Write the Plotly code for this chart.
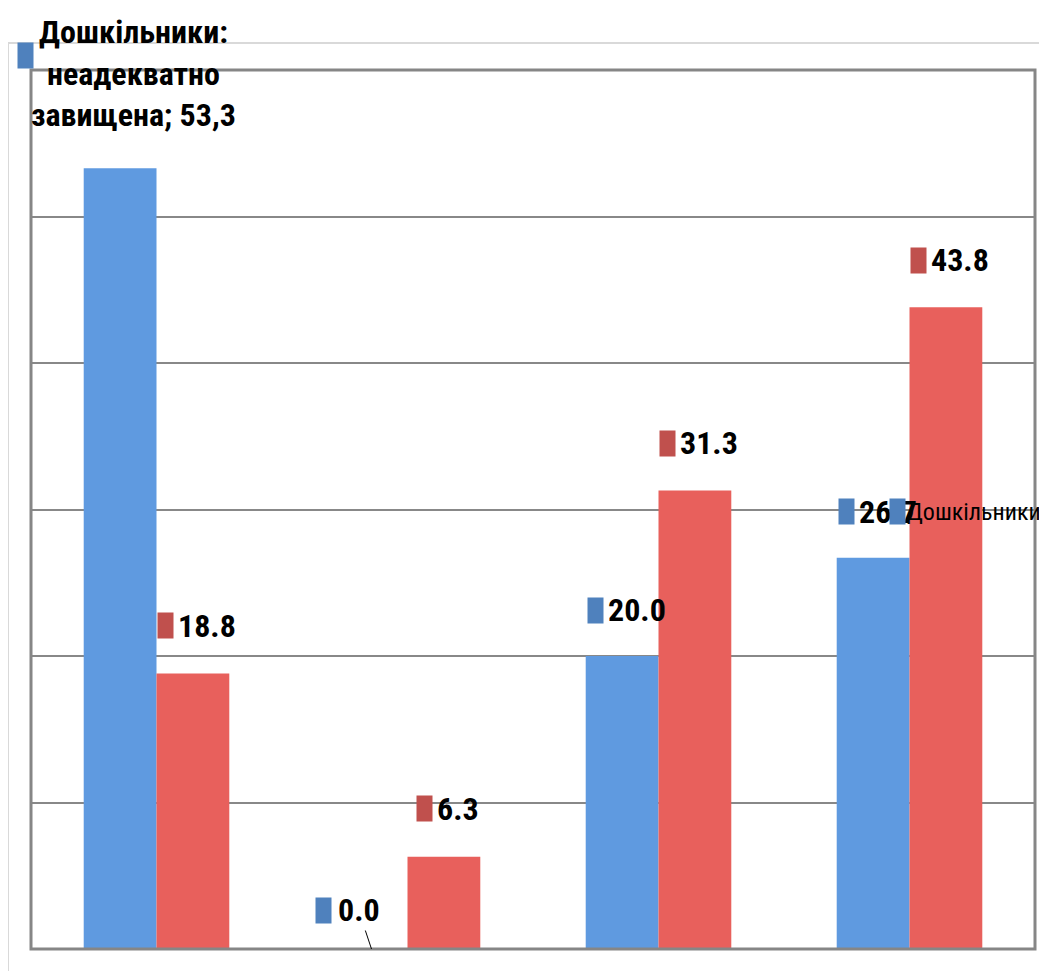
import plotly.graph_objects as go

categories = ["неадекватно завищена", "занижена", "адекватна", "завищена"]
preschool = [53.3, 0.0, 20.0, 26.7]
schoolkids = [18.8, 6.3, 31.3, 43.8]
series_names = ["Дошкільники", "Молодші школярі"]

BAR_BLUE = "#5F9AE0"
BAR_RED = "#E8605C"
KEY_BLUE = "#4F81BD"
KEY_RED = "#C0504D"
FONT = "Liberation Sans Narrow, Roboto Condensed, Noto Sans Condensed, Roboto, sans-serif"
FS = 32

fig = go.Figure()
fig.add_trace(go.Bar(x=categories, y=preschool, name=series_names[0],
                     marker=dict(color=BAR_BLUE, line=dict(width=0))))
fig.add_trace(go.Bar(x=categories, y=schoolkids, name=series_names[1],
                     marker=dict(color=BAR_RED, line=dict(width=0))))

ann = []

def key(cat, val, color, xstart, yshift, anchor="left"):
    ann.append(dict(x=cat, y=val, xref="x", yref="y", text=" ", showarrow=False,
                    width=15, height=25, bgcolor=color, borderpad=0,
                    xanchor=anchor, yanchor="middle", xshift=xstart, yshift=yshift))

def label(cat, val, text, key_color, xstart, yshift):
    key(cat, val, key_color, xstart, yshift)
    ann.append(dict(x=cat, y=val, xref="x", yref="y", text=f"<b>{text}</b>", showarrow=False,
                    font=dict(family=FONT, size=FS, color="black"),
                    xanchor="left", yanchor="middle", xshift=xstart + 19, yshift=yshift))

# red series labels
label(categories[0], schoolkids[0], f"{schoolkids[0]:.1f}", KEY_RED, 0, 48)
label(categories[1], schoolkids[1], f"{schoolkids[1]:.1f}", KEY_RED, 8, 48)
label(categories[2], schoolkids[2], f"{schoolkids[2]:.1f}", KEY_RED, 0, 47)
label(categories[3], schoolkids[3], f"{schoolkids[3]:.1f}", KEY_RED, 0, 47)
# blue series labels
label(categories[2], preschool[2], f"{preschool[2]:.1f}", KEY_BLUE, -72, 46)
label(categories[3], preschool[3], f"{preschool[3]:.1f}", KEY_BLUE, -72, 46)
# overlapping series-name label (as in the original)
key(categories[3], preschool[3], KEY_BLUE, -21, 46)
ann.append(dict(x=categories[3], y=preschool[3], xref="x", yref="y", text=series_names[0],
                showarrow=False, font=dict(family=FONT, size=24, color="black"),
                xanchor="left", yanchor="middle", xshift=-5, yshift=46))
# zero label with leader line
key(categories[1], preschool[1], KEY_BLUE, -93, 39)
ann.append(dict(x=categories[1], y=preschool[1], xref="x", yref="y",
                text=f"<b>{preschool[1]:.1f}</b>", showarrow=True, arrowhead=0,
                arrowwidth=1, arrowcolor="black", ax=-13, ay=-39, xshift=-36,
                font=dict(family=FONT, size=FS, color="black"), standoff=0))
# big first label
key(categories[0], preschool[0], KEY_BLUE, -131, 113, anchor="center")
ann.append(dict(x=categories[0], y=preschool[0], xref="x", yref="y",
                text=f"<b>{series_names[0]}:<br>неадекватно<br>завищена; {str(preschool[0]).replace('.', ',')}</b>",
                showarrow=False, align="center",
                font=dict(family=FONT, size=FS, color="black"),
                xanchor="center", yanchor="middle", xshift=-23, yshift=95))

shapes = [
    dict(type="rect", xref="paper", yref="paper", x0=-0.0229, x1=1.05, y0=-0.1, y1=1.0307,
         line=dict(color="#D9D9D9", width=2), layer="below"),
    dict(type="rect", xref="paper", yref="paper", x0=0, x1=1, y0=0, y1=1,
         line=dict(color="#868686", width=3)),
]

# page body has an 8px default margin: figure sized/positioned to compensate
fig.update_layout(
    width=1039, height=963,
    margin=dict(l=23, r=12, t=62, b=22),
    paper_bgcolor="white", plot_bgcolor="white",
    barmode="group", bargap=0.42, bargroupgap=0,
    showlegend=False,
    xaxis=dict(range=[-0.5, 3.5], showticklabels=False, showgrid=False, zeroline=False,
               showline=False, ticks=""),
    yaxis=dict(range=[0, 60], dtick=10, showticklabels=False, showgrid=True,
               gridcolor="#888888", gridwidth=2, zeroline=False, showline=False, ticks=""),
    annotations=ann, shapes=shapes,
)

fig.write_html("out.html")
